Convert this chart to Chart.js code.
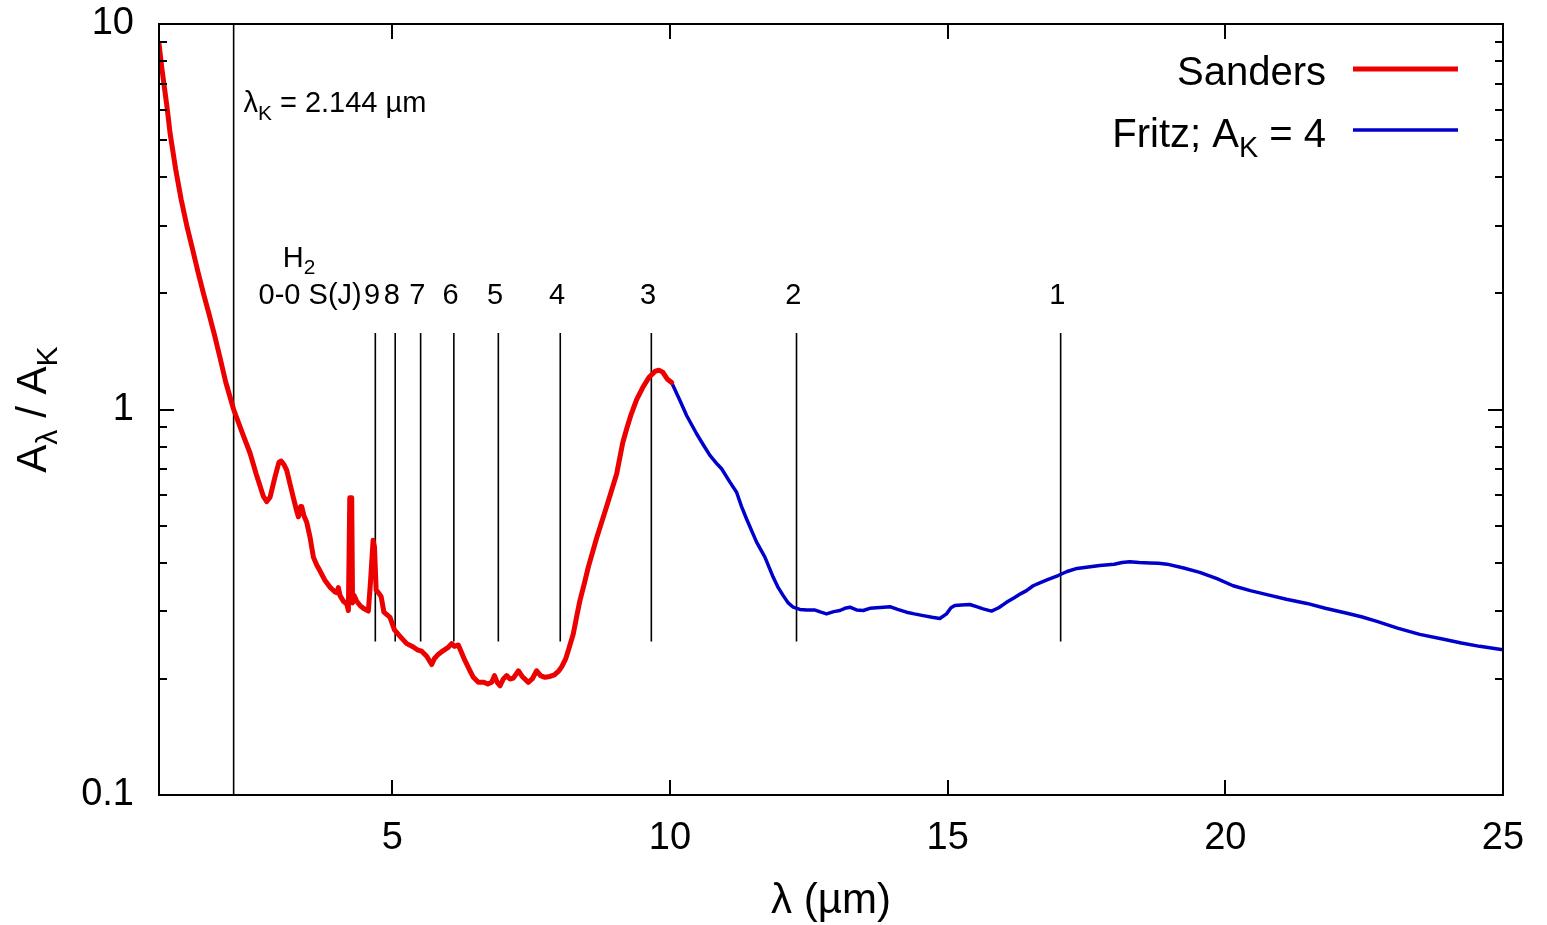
<!DOCTYPE html>
<html>
<head>
<meta charset="utf-8">
<script src="https://cdn.jsdelivr.net/npm/chart.js@4.4.0/dist/chart.umd.min.js"></script>
<style>
html,body{margin:0;padding:0;background:#ffffff;}
#wrap{width:1547px;height:925px;position:relative;}
</style>
</head>
<body>
<div id="wrap"><canvas id="c" width="1547" height="925"></canvas></div>
<script>
// ---------------- data ----------------
const sandersX = [0.8,0.85,0.9,0.95,1.0,1.1,1.2,1.3,1.4,1.5,1.6,1.7,1.8,1.9,2.0,2.144,2.3,2.44,2.55,2.68,2.74,2.80,2.89,2.96,3.0,3.05,3.10,3.16,3.22,3.28,3.31,3.35,3.37,3.41,3.46,3.52,3.58,3.64,3.70,3.79,3.88,3.96,4.0,4.03,4.06,4.12,4.18,4.21,4.235,4.27,4.285,4.31,4.36,4.42,4.48,4.57,4.61,4.655,4.68,4.71,4.75,4.80,4.85,4.96,5.04,5.14,5.26,5.38,5.45,5.53,5.62,5.71,5.76,5.82,5.92,6.0,6.07,6.12,6.19,6.31,6.40,6.46,6.55,6.65,6.72,6.79,6.84,6.89,6.94,7.0,7.06,7.12,7.18,7.27,7.34,7.45,7.52,7.60,7.67,7.75,7.84,7.92,8.0,8.05,8.12,8.17,8.26,8.32,8.38,8.45,8.53,8.68,8.86,9.04,9.15,9.22,9.30,9.40,9.51,9.62,9.73,9.80,9.87,9.95,10.03];
const sandersY = [8.9,7.7,6.8,6.0,5.2,4.2,3.5,3.0,2.62,2.28,2.0,1.77,1.56,1.36,1.18,1.0,0.87,0.77,0.68,0.595,0.577,0.592,0.67,0.73,0.735,0.72,0.695,0.64,0.59,0.545,0.527,0.56,0.56,0.53,0.51,0.466,0.414,0.395,0.381,0.36,0.346,0.337,0.335,0.345,0.329,0.318,0.313,0.301,0.59,0.59,0.315,0.33,0.318,0.31,0.305,0.30,0.36,0.458,0.44,0.34,0.335,0.327,0.298,0.289,0.268,0.258,0.247,0.242,0.238,0.236,0.229,0.218,0.226,0.231,0.237,0.241,0.247,0.243,0.245,0.223,0.21,0.202,0.196,0.196,0.194,0.196,0.204,0.196,0.192,0.2,0.204,0.2,0.201,0.21,0.203,0.196,0.2,0.21,0.204,0.202,0.203,0.205,0.21,0.215,0.225,0.237,0.262,0.29,0.32,0.35,0.39,0.464,0.56,0.68,0.82,0.89,0.97,1.06,1.14,1.21,1.255,1.265,1.25,1.2,1.175];

const fritzX = [10.03,10.18,10.30,10.48,10.60,10.72,10.85,10.93,11.08,11.20,11.29,11.38,11.56,11.71,11.86,11.95,12.04,12.13,12.22,12.34,12.46,12.60,12.72,12.82,12.95,13.06,13.15,13.24,13.36,13.48,13.60,13.72,13.85,13.96,14.10,14.26,14.40,14.56,14.72,14.86,14.98,15.06,15.13,15.25,15.40,15.52,15.64,15.79,15.92,16.06,16.20,16.32,16.42,16.54,16.66,16.80,16.99,17.15,17.33,17.50,17.74,18.0,18.14,18.28,18.45,18.64,18.80,18.95,19.25,19.54,19.85,20.14,20.45,20.75,21.10,21.47,21.80,22.19,22.45,22.73,23.10,23.50,23.91,24.25,24.58,25.0];
const fritzY = [1.175,1.055,0.965,0.865,0.81,0.76,0.722,0.702,0.648,0.61,0.56,0.52,0.453,0.414,0.367,0.345,0.329,0.315,0.307,0.303,0.302,0.302,0.298,0.295,0.299,0.301,0.305,0.307,0.302,0.301,0.305,0.306,0.307,0.308,0.303,0.298,0.295,0.292,0.289,0.287,0.295,0.306,0.31,0.311,0.312,0.308,0.304,0.30,0.306,0.316,0.325,0.333,0.339,0.349,0.355,0.362,0.371,0.38,0.387,0.39,0.394,0.397,0.401,0.403,0.401,0.40,0.399,0.397,0.388,0.378,0.364,0.349,0.339,0.331,0.322,0.314,0.305,0.296,0.29,0.282,0.271,0.261,0.254,0.248,0.243,0.238];

// H2 0-0 S(J) line wavelengths and their labels
const h2Lines  = [4.695, 5.053, 5.511, 6.109, 6.910, 8.025, 9.665, 12.279, 17.035];
const h2Labels = ['9','8','7','6','5','4','3','2','1'];
const h2LineBottom = 0.25;
const h2LineTop = 1.58;
const h2LabelY = 2.0;

const lambdaK = 2.144;

// axes
const xMin = 0.8, xMax = 25;
const yMin = 0.1, yMax = 10;
const xTickValues = [5, 10, 15, 20, 25];
const xTickLabels = ['5', '10', '15', '20', '25'];
const yTickValues = [0.1, 1, 10];
const yTickLabels = ['0.1', '1', '10'];
const yMinorTicks = [0.2,0.3,0.4,0.5,0.6,0.7,0.8,0.9,2,3,4,5,6,7,8,9];

// ---------------- style ----------------
const FONT = '"Liberation Sans", Arial, Helvetica, sans-serif';
const RED = 'rgb(236,0,0)';
const BLUE = 'rgb(0,0,204)';
const TICK_FONT = 38;
const LEG_FONT = 40;
const TITLE_FONT = 42;
const ANN_FONT = 29;

function zip(xs, ys) { return xs.map((x, i) => ({x: x, y: ys[i]})); }

const datasets = [];
datasets.push({
  label: 'Sanders', data: zip(sandersX, sandersY), borderColor: RED, borderWidth: 5,
  showLine: true, pointRadius: 0, tension: 0, order: 1, borderJoinStyle: 'round', borderCapStyle: 'round'
});
datasets.push({
  label: 'Fritz; A_K = 4', data: zip(fritzX, fritzY), borderColor: BLUE, borderWidth: 3.5,
  showLine: true, pointRadius: 0, tension: 0, order: 2, borderJoinStyle: 'round'
});
datasets.push({
  label: 'lambdaK', data: [{x: lambdaK, y: yMin}, {x: lambdaK, y: yMax}], borderColor: '#000',
  borderWidth: 1.6, showLine: true, pointRadius: 0, order: 10
});
h2Lines.forEach((w, i) => {
  datasets.push({
    label: 'S(' + h2Labels[i] + ')', data: [{x: w, y: h2LineBottom}, {x: w, y: h2LineTop}],
    borderColor: '#000', borderWidth: 1.6, showLine: true, pointRadius: 0, order: 10
  });
});

// draw text made of normal / subscript parts
function richText(ctx, parts, x, baseline, size, align) {
  const subSize = size * 0.72;
  const widths = parts.map(p => {
    ctx.font = (p[1] ? subSize : size) + 'px ' + FONT;
    return ctx.measureText(p[0]).width;
  });
  const total = widths.reduce((a, b) => a + b, 0);
  let cx = align === 'right' ? x - total : (align === 'center' ? x - total / 2 : x);
  ctx.textAlign = 'left';
  ctx.textBaseline = 'alphabetic';
  parts.forEach((p, i) => {
    ctx.font = (p[1] ? subSize : size) + 'px ' + FONT;
    ctx.fillText(p[0], cx, p[1] ? baseline + size * 0.26 : baseline);
    cx += widths[i];
  });
}

const framePlugin = {
  id: 'frame',
  afterDraw(chart) {
    const ctx = chart.ctx;
    const a = chart.chartArea;
    const xs = chart.scales.x, ys = chart.scales.y;
    ctx.save();
    ctx.strokeStyle = '#000';
    ctx.fillStyle = '#000';
    ctx.lineWidth = 2;
    // ticks (inward, mirrored)
    ctx.beginPath();
    xTickValues.forEach(v => {
      const px = Math.round(xs.getPixelForValue(v));
      if (px > a.left + 1 && px < a.right - 1) {
        ctx.moveTo(px, a.bottom); ctx.lineTo(px, a.bottom - 15);
        ctx.moveTo(px, a.top); ctx.lineTo(px, a.top + 15);
      }
    });
    yTickValues.forEach(v => {
      const py = Math.round(ys.getPixelForValue(v));
      ctx.moveTo(a.left, py); ctx.lineTo(a.left + 15, py);
      ctx.moveTo(a.right, py); ctx.lineTo(a.right - 15, py);
    });
    yMinorTicks.forEach(v => {
      const py = Math.round(ys.getPixelForValue(v));
      ctx.moveTo(a.left, py); ctx.lineTo(a.left + 8, py);
      ctx.moveTo(a.right, py); ctx.lineTo(a.right - 8, py);
    });
    ctx.stroke();
    // border
    ctx.strokeRect(a.left, a.top, a.right - a.left, a.bottom - a.top);

    // H2 labels
    h2Lines.forEach((w, i) => {
      const px = xs.getPixelForValue(w) - 3.3;
      const py = ys.getPixelForValue(h2LabelY) + ANN_FONT * 0.36;
      richText(ctx, [[h2Labels[i], false]], px, py, ANN_FONT, 'center');
    });
    richText(ctx, [['0-0 S(J)', false]], xs.getPixelForValue(4.45), ys.getPixelForValue(h2LabelY) + ANN_FONT * 0.36, ANN_FONT, 'right');
    richText(ctx, [['H', false], ['2', true]], xs.getPixelForValue(3.03), ys.getPixelForValue(2.5) + ANN_FONT * 0.36, ANN_FONT, 'left');
    richText(ctx, [['λ', false], ['K', true], [' = 2.144 µm', false]], xs.getPixelForValue(2.32), ys.getPixelForValue(6.28) + ANN_FONT * 0.36, ANN_FONT, 'left');

    // legend
    const legX = 1326, sx1 = 1353, sx2 = 1458;
    richText(ctx, [['Sanders', false]], legX, 85, LEG_FONT, 'right');
    richText(ctx, [['Fritz; A', false], ['K', true], [' = 4', false]], legX, 147, LEG_FONT, 'right');
    ctx.lineCap = 'butt';
    ctx.strokeStyle = RED; ctx.lineWidth = 5;
    ctx.beginPath(); ctx.moveTo(sx1, 69); ctx.lineTo(sx2, 69); ctx.stroke();
    ctx.strokeStyle = BLUE; ctx.lineWidth = 3.5;
    ctx.beginPath(); ctx.moveTo(sx1, 130); ctx.lineTo(sx2, 130); ctx.stroke();

    // axis titles
    ctx.fillStyle = '#000';
    richText(ctx, [['λ (µm)', false]], (a.left + a.right) / 2, 913, TITLE_FONT, 'center');
    ctx.translate(46, (a.top + a.bottom) / 2);
    ctx.rotate(-Math.PI / 2);
    richText(ctx, [['A', false], ['λ', true], [' / A', false], ['K', true]], 0, 0, TITLE_FONT, 'center');
    ctx.restore();
  }
};

new Chart(document.getElementById('c'), {
  type: 'scatter',
  data: { datasets: datasets },
  options: {
    responsive: false,
    animation: false,
    devicePixelRatio: 1,
    layout: { padding: { top: 24, right: 44, left: 0, bottom: 0 } },
    plugins: { legend: { display: false }, tooltip: { enabled: false } },
    elements: { line: { fill: false } },
    scales: {
      x: {
        type: 'linear', min: xMin, max: xMax,
        grid: { display: false, drawTicks: false },
        border: { display: false },
        afterBuildTicks: s => { s.ticks = xTickValues.map(v => ({value: v})); },
        afterFit: s => { s.height = 130; s.paddingLeft = 0; s.paddingRight = 0; },
        ticks: {
          autoSkip: false, maxRotation: 0, padding: 21, color: '#000',
          font: { family: FONT, size: TICK_FONT },
          callback: (v) => { const i = xTickValues.indexOf(v); return i >= 0 ? xTickLabels[i] : ''; }
        }
      },
      y: {
        type: 'logarithmic', min: yMin, max: yMax,
        grid: { display: false, drawTicks: false },
        border: { display: false },
        afterBuildTicks: s => { s.ticks = yTickValues.map(v => ({value: v})); },
        afterFit: s => { s.width = 159; s.paddingTop = 0; s.paddingBottom = 0; },
        ticks: {
          autoSkip: false, padding: 25, color: '#000',
          font: { family: FONT, size: TICK_FONT },
          callback: (v) => { const i = yTickValues.findIndex(t => Math.abs(t - v) < 1e-9); return i >= 0 ? yTickLabels[i] : ''; }
        }
      }
    }
  },
  plugins: [framePlugin]
});
</script>
</body>
</html>
